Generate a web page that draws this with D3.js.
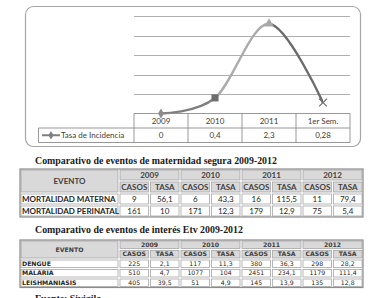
<!DOCTYPE html>
<html>
<head>
<meta charset="utf-8">
<script src="https://cdn.jsdelivr.net/npm/d3@7"></script>
<style>
  body { margin: 0; background: #fff; }
  svg { display: block; }
</style>
</head>
<body>
<svg id="chart" width="371" height="298"></svg>
<script>
/*global d3*/
// incidence chart data
const periods = ["2009", "2010", "2011", "1er Sem."]
const incidence = [0, 0.4, 2.3, 0.28]

// table data
const years = ["2009", "2010", "2011", "2012"]
const subCols = ["CASOS", "TASA"]

const maternalEvents = ["MORTALIDAD MATERNA", "MORTALIDAD PERINATAL"]
const maternalCasos = [[9, 6, 16, 11], [161, 171, 179, 75]]
const maternalTasa = [[56.1, 43.3, 115.5, 79.4], [10, 12.3, 12.9, 5.4]]

const etvEvents = ["DENGUE", "MALARIA", "LEISHMANIASIS"]
const etvCasos = [[225, 117, 380, 298], [510, 1077, 2451, 1179], [405, 51, 145, 135]]
const etvTasa = [[2.1, 11.3, 36.3, 28.2], [4.7, 104, 234.1, 111.4], [39.5, 4.9, 13.9, 12.8]]

const svg = d3.select("#chart")
const comma = v => String(v).replace(".", ",")

//chart frame
svg.append("rect")
  .attr("x", 25.5).attr("y", 6.5)
  .attr("width", 335).attr("height", 140)
  .attr("rx", 8)
  .attr("fill", "#fff")
  .attr("stroke", "#a6a6a6")
  .attr("stroke-width", 1.2)

const x = d3.scaleBand().domain(periods).range([134, 350])
const y = d3.scaleLinear().domain([0, 2.5]).range([113.5, 16])
const cx = p => x(p) + x.bandwidth() / 2

//gridlines
svg.append("g")
  .selectAll("line")
  .data(y.ticks(5).filter(d => d > 0))
  .join("line")
  .attr("x1", 134).attr("x2", 350)
  .attr("y1", d => Math.round(y(d)) + 0.5)
  .attr("y2", d => Math.round(y(d)) + 0.5)
  .attr("stroke", "#999")
  .attr("stroke-width", 0.8)

//smoothed line, each segment its own grey
const pts = periods.map((p, i) => ({ p: p, v: incidence[i] }))
const line = d3.line()
  .x(d => cx(d.p))
  .y(d => y(d.v))
  .curve(d3.curveCardinal.tension(0))
const segColors = ["#7f7f7f", "#ababab", "#6b6b6b"]
const defs = svg.append("defs")
segColors.forEach((c, i) => {
  defs.append("clipPath").attr("id", "seg" + i)
    .append("rect")
    .attr("x", cx(periods[i])).attr("y", 0)
    .attr("width", cx(periods[i + 1]) - cx(periods[i])).attr("height", 200)
  svg.append("path")
    .attr("d", line(pts))
    .attr("fill", "none")
    .attr("stroke", c)
    .attr("stroke-width", 2.4)
    .attr("clip-path", "url(#seg" + i + ")")
})

//markers
const sym = [d3.symbolDiamond, d3.symbolSquare, d3.symbolTriangle, d3.symbolX]
const symColor = ["#8c8c8c", "#6e6e6e", "#a8a8a8", "#6b6b6b"]
const symSize = [30, 50, 40, 40]
svg.append("g")
  .selectAll("path")
  .data(pts)
  .join("path")
  .attr("transform", d => `translate(${cx(d.p)},${y(d.v)})`)
  .attr("d", (d, i) => d3.symbol(sym[i], symSize[i])())
  .attr("fill", (d, i) => i == 3 ? "none" : symColor[i])
  .attr("stroke", (d, i) => i == 3 ? symColor[i] : "none")
  .attr("stroke-width", 1.1)

//data table under the chart
const tTop = 113.5, tMid = 128, tBot = 142.5, legLeft = 38.5
const tg = svg.append("g").attr("stroke", "#8c8c8c").attr("stroke-width", 0.9)
tg.append("line").attr("x1", 134).attr("x2", 350).attr("y1", tTop).attr("y2", tTop)
tg.append("line").attr("x1", legLeft).attr("x2", 350).attr("y1", tMid).attr("y2", tMid)
tg.append("line").attr("x1", legLeft).attr("x2", 350).attr("y1", tBot).attr("y2", tBot)
tg.append("line").attr("x1", legLeft).attr("x2", legLeft).attr("y1", tMid).attr("y2", tBot)
tg.selectAll(".v")
  .data(periods.map(p => x(p)).concat([350]))
  .join("line")
  .attr("x1", d => d).attr("x2", d => d)
  .attr("y1", tTop).attr("y2", tBot)

const ct = svg.append("g")
  .attr("font-family", "Lato, 'Open Sans', sans-serif")
  .attr("font-size", 8)
  .attr("fill", "#404040")
  .attr("text-anchor", "middle")
ct.selectAll(".hd")
  .data(periods)
  .join("text")
  .attr("x", d => cx(d))
  .attr("y", (tTop + tMid) / 2)
  .attr("dy", "0.36em")
  .text(d => d)
ct.selectAll(".vl")
  .data(pts)
  .join("text")
  .attr("x", d => cx(d.p))
  .attr("y", (tMid + tBot) / 2)
  .attr("dy", "0.36em")
  .text(d => comma(d.v))

//legend in table
const ly = (tMid + tBot) / 2
svg.append("line")
  .attr("x1", 42).attr("x2", 60).attr("y1", ly).attr("y2", ly)
  .attr("stroke", "#7f7f7f").attr("stroke-width", 2)
svg.append("path")
  .attr("transform", `translate(51,${ly})`)
  .attr("d", d3.symbol(d3.symbolDiamond, 22)())
  .attr("fill", "#7f7f7f")
ct.append("text")
  .attr("x", 61).attr("y", ly).attr("dy", "0.36em")
  .attr("text-anchor", "start")
  .text("Tasa de Incidencia")

//titles
const titles = [
  { t: "Comparativo de eventos de maternidad segura 2009-2012", y: 163.5 },
  { t: "Comparativo de eventos de interés Etv 2009-2012", y: 232.5 },
  { t: "Fuente: Sivigila", y: 301.5 },
]
svg.selectAll(".title")
  .data(titles)
  .join("text")
  .attr("x", 35)
  .attr("y", d => d.y)
  .attr("font-family", "'Liberation Serif', 'Times New Roman', serif")
  .attr("font-weight", "bold")
  .attr("font-size", 9.9)
  .attr("fill", "#1a1a1a")
  .text(d => d.t)

//comparison tables
function drawTable(top, rowH, events, casos, tasa, font, fsize) {
  const left = 20, right = 363, evRight = 119
  const g = svg.append("g")
  const yc = d3.scaleBand().domain(years).range([evRight, right])
  const sc = d3.scaleBand().domain(subCols).range([0, yc.bandwidth()])
  const nRows = events.length + 2
  const rowY = i => top + i * rowH

  const cells = []
  cells.push({ x: left, y: rowY(0), w: evRight - left, h: rowH * 2, t: "EVENTO", head: true, anchor: "middle" })
  years.forEach(yr => {
    cells.push({ x: yc(yr), y: rowY(0), w: yc.bandwidth(), h: rowH, t: yr, head: true, anchor: "middle" })
    subCols.forEach(s => {
      cells.push({ x: yc(yr) + sc(s), y: rowY(1), w: sc.bandwidth(), h: rowH, t: s, head: true, anchor: "middle" })
    })
  })
  events.forEach((ev, r) => {
    cells.push({ x: left, y: rowY(r + 2), w: evRight - left, h: rowH, t: ev, head: false, bold: true, anchor: "start" })
    years.forEach((yr, j) => {
      cells.push({ x: yc(yr) + sc("CASOS"), y: rowY(r + 2), w: sc.bandwidth(), h: rowH, t: comma(casos[r][j]), head: false, anchor: "middle" })
      cells.push({ x: yc(yr) + sc("TASA"), y: rowY(r + 2), w: sc.bandwidth(), h: rowH, t: comma(tasa[r][j]), head: false, anchor: "middle" })
    })
  })

  g.selectAll("rect")
    .data(cells)
    .join("rect")
    .attr("x", d => d.x + 1).attr("y", d => d.y + 1)
    .attr("width", d => d.w - 2).attr("height", d => d.h - 2)
    .attr("fill", d => d.head ? "#d9d9d9" : "#fff")
    .attr("stroke", "#a6a6a6")
    .attr("stroke-width", 0.8)

  g.append("rect")
    .attr("x", left).attr("y", top)
    .attr("width", right - left).attr("height", rowH * nRows)
    .attr("fill", "none")
    .attr("stroke", "#8c8c8c")
    .attr("stroke-width", 1.2)

  g.selectAll("text")
    .data(cells)
    .join("text")
    .attr("x", d => d.anchor == "start" ? d.x + 2 : d.x + d.w / 2)
    .attr("y", d => d.y + d.h / 2)
    .attr("dy", "0.36em")
    .attr("text-anchor", d => d.anchor)
    .attr("font-family", font)
    .attr("font-size", fsize)
    .attr("font-weight", d => d.head || d.bold ? "bold" : "normal")
    .attr("fill", d => d.head ? "#404040" : "#262626")
    .text(d => d.t)
}

drawTable(169, 12, maternalEvents, maternalCasos, maternalTasa, "Lato, 'Open Sans', sans-serif", 8)
drawTable(240, 9.5, etvEvents, etvCasos, etvTasa, "'DejaVu Sans', Verdana, sans-serif", 6.2)
</script>
</body>
</html>
